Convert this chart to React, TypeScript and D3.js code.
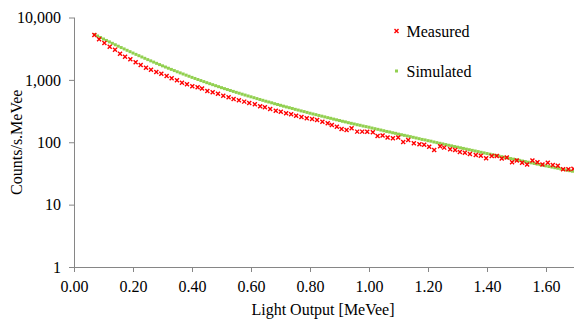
import React, { useRef, useEffect } from 'react';
import * as d3 from 'd3';

// measured spectrum: [light output MeVee, counts/s.MeVee]
const measured: [number, number][] = [
  [0.069, 5250], [0.085, 4475], [0.103, 3900], [0.121, 3400], [0.139, 3050], [0.156, 2630],
  [0.173, 2355], [0.191, 2140], [0.209, 1915], [0.226, 1733], [0.244, 1570], [0.261, 1457],
  [0.279, 1339], [0.296, 1257], [0.314, 1154], [0.331, 1061], [0.349, 986], [0.366, 902],
  [0.383, 850], [0.401, 789], [0.419, 760], [0.434, 730], [0.452, 664], [0.470, 633],
  [0.488, 601], [0.506, 558], [0.524, 526], [0.541, 494], [0.559, 471], [0.577, 448],
  [0.594, 427], [0.613, 407], [0.631, 378], [0.647, 364], [0.665, 342], [0.684, 321],
  [0.701, 309], [0.719, 292], [0.736, 281], [0.753, 267], [0.771, 254], [0.789, 243],
  [0.807, 236], [0.824, 228], [0.842, 214], [0.860, 201], [0.874, 189], [0.891, 178],
  [0.907, 163], [0.924, 157], [0.941, 168], [0.960, 148], [0.977, 148], [0.994, 147],
  [1.013, 145], [1.029, 126], [1.046, 128], [1.063, 119], [1.081, 116], [1.099, 119],
  [1.116, 101], [1.133, 109], [1.152, 96], [1.171, 93], [1.187, 91], [1.204, 85],
  [1.221, 75], [1.241, 86], [1.255, 82], [1.275, 77], [1.292, 75], [1.308, 70],
  [1.325, 68], [1.342, 65], [1.362, 62.5], [1.379, 61], [1.397, 55.4], [1.416, 60],
  [1.433, 60], [1.450, 55], [1.467, 57], [1.485, 48], [1.501, 51], [1.519, 47],
  [1.536, 44], [1.554, 51], [1.571, 48], [1.588, 44], [1.606, 47], [1.623, 43],
  [1.640, 42], [1.658, 37], [1.676, 37], [1.693, 37.5]
];

// simulated spectrum
const simulated: [number, number][] = [
  [0.07, 5333], [0.08, 5047], [0.09, 4775], [0.10, 4519], [0.11, 4285], [0.12, 4064],
  [0.13, 3855], [0.14, 3656], [0.15, 3467], [0.16, 3296], [0.17, 3133], [0.18, 2979],
  [0.19, 2831], [0.20, 2692], [0.21, 2564], [0.22, 2443], [0.23, 2328], [0.24, 2218],
  [0.25, 2113], [0.26, 2018], [0.27, 1928], [0.28, 1841], [0.29, 1758], [0.30, 1679],
  [0.31, 1607], [0.32, 1538], [0.33, 1472], [0.34, 1409], [0.35, 1349], [0.36, 1294],
  [0.37, 1242], [0.38, 1191], [0.39, 1143], [0.40, 1096], [0.41, 1054], [0.42, 1014],
  [0.43, 975], [0.44, 938], [0.45, 902], [0.46, 869], [0.47, 838], [0.48, 807],
  [0.49, 778], [0.50, 750], [0.51, 724], [0.52, 700], [0.53, 676], [0.54, 653],
  [0.55, 631], [0.56, 611], [0.57, 590], [0.58, 571], [0.59, 552], [0.60, 535],
  [0.61, 518], [0.62, 501], [0.63, 485], [0.64, 470], [0.65, 455], [0.66, 442],
  [0.67, 429], [0.68, 415], [0.69, 403], [0.70, 391], [0.71, 379], [0.72, 368],
  [0.73, 358], [0.74, 348], [0.75, 337], [0.76, 328], [0.77, 318], [0.78, 310],
  [0.79, 301], [0.80, 292], [0.81, 284], [0.82, 277], [0.83, 269], [0.84, 262],
  [0.85, 255], [0.86, 248], [0.87, 242], [0.88, 235], [0.89, 229], [0.90, 223],
  [0.91, 217], [0.92, 212], [0.93, 206], [0.94, 201], [0.95, 196], [0.96, 191],
  [0.97, 187], [0.98, 182], [0.99, 178], [1.00, 174], [1.01, 169], [1.02, 165],
  [1.03, 161], [1.04, 157], [1.05, 153], [1.06, 149], [1.07, 146], [1.08, 142],
  [1.09, 139], [1.10, 135], [1.11, 132], [1.12, 129], [1.13, 126], [1.14, 123],
  [1.15, 120], [1.16, 117], [1.17, 114], [1.18, 111], [1.19, 109], [1.20, 106],
  [1.21, 104], [1.22, 101], [1.23, 98.6], [1.24, 96.2], [1.25, 94.0], [1.26, 91.8],
  [1.27, 89.5], [1.28, 87.5], [1.29, 85.3], [1.30, 83.4], [1.31, 81.5], [1.32, 79.6],
  [1.33, 77.6], [1.34, 75.9], [1.35, 74.1], [1.36, 72.4], [1.37, 70.8], [1.38, 69.0],
  [1.39, 67.5], [1.40, 65.9], [1.41, 64.4], [1.42, 63.0], [1.43, 61.5], [1.44, 60.1],
  [1.45, 58.7], [1.46, 57.4], [1.47, 56.1], [1.48, 54.8], [1.49, 53.6], [1.50, 52.4],
  [1.51, 51.2], [1.52, 50.0], [1.53, 49.0], [1.54, 47.9], [1.55, 46.8], [1.56, 45.7],
  [1.57, 44.7], [1.58, 43.8], [1.59, 42.8], [1.60, 41.8], [1.61, 40.8], [1.62, 40.0],
  [1.63, 39.1], [1.64, 38.3], [1.65, 37.4], [1.66, 36.6], [1.67, 35.8], [1.68, 35.0],
  [1.69, 34.3]
];

const xTicks = [0, 0.2, 0.4, 0.6, 0.8, 1.0, 1.2, 1.4, 1.6];
const yTicks = [1, 10, 100, 1000, 10000];
const seriesNames = ['Measured', 'Simulated'];

const App: React.FC = () => {
  const svgRef = useRef<SVGSVGElement | null>(null);

  useEffect(() => {
    const svg = d3.select(svgRef.current);
    svg.selectAll('*').remove();
    const width = 574;
    const height = 322;
    const font = '"Liberation Serif", "Times New Roman", serif';
    const axisColor = '#868686';
    const red = '#ff0000';
    const green = '#92d050';

    const x = d3.scaleLinear().domain([0, 1.7]).range([74, 575.5]);
    const y = d3.scaleLog().domain([1, 10000]).range([267, 17.5]);

    svg.attr('width', width).attr('height', height).style('background', '#fff');

    // y axis
    const yAxis = svg.append('g')
      .attr('transform', `translate(${x(0)},0)`)
      .call(d3.axisLeft(y).tickValues(yTicks).tickSize(5).tickSizeOuter(0).tickFormat(d3.format(',')));
    yAxis.select('.domain').attr('stroke', axisColor).attr('d', `M0.5,${y(10000)}V${y(1)}`);
    yAxis.selectAll('line').attr('stroke', axisColor);
    yAxis.selectAll('text')
      .attr('fill', '#000')
      .style('font-family', font)
      .style('font-size', '16px')
      .attr('x', -13);

    // x axis
    const xAxis = svg.append('g')
      .attr('transform', `translate(0,${y(1)})`)
      .call(d3.axisBottom(x).tickValues(xTicks).tickSize(5).tickSizeOuter(0).tickFormat(d3.format('.2f')));
    xAxis.select('.domain').attr('stroke', axisColor);
    xAxis.selectAll('line').attr('stroke', axisColor);
    xAxis.selectAll('text')
      .attr('fill', '#000')
      .style('font-family', font)
      .style('font-size', '16px')
      .attr('y', 14);

    // simulated points
    svg.append('g')
      .selectAll('rect')
      .data(simulated)
      .enter()
      .append('rect')
      .attr('x', d => x(d[0]) - 1.5)
      .attr('y', d => y(d[1]) - 1.5)
      .attr('width', 3)
      .attr('height', 3)
      .attr('fill', green);

    // measured points
    const cross = (cx: number, cy: number) =>
      `M${cx - 2},${cy - 2}L${cx + 2},${cy + 2}M${cx + 2},${cy - 2}L${cx - 2},${cy + 2}`;
    svg.append('g')
      .selectAll('path')
      .data(measured)
      .enter()
      .append('path')
      .attr('d', d => cross(x(d[0]), y(d[1])))
      .attr('stroke', red)
      .attr('stroke-width', 1.4)
      .attr('fill', 'none');

    // axis titles
    svg.append('text')
      .attr('x', 323)
      .attr('y', 315)
      .attr('text-anchor', 'middle')
      .style('font-family', font)
      .style('font-size', '16px')
      .text('Light Output [MeVee]');

    svg.append('text')
      .attr('transform', `translate(22,${(y(1) + y(10000)) / 2}) rotate(-90)`)
      .attr('text-anchor', 'middle')
      .style('font-family', font)
      .style('font-size', '16px')
      .text('Counts/s.MeVee');

    // legend
    const legend = svg.append('g').attr('transform', 'translate(396.5, 31)');
    legend.append('path')
      .attr('d', cross(0, 0))
      .attr('stroke', red)
      .attr('stroke-width', 1.4);
    legend.append('rect')
      .attr('x', -1.5)
      .attr('y', 40 - 1.5)
      .attr('width', 3)
      .attr('height', 3)
      .attr('fill', green);
    legend.selectAll('text')
      .data(seriesNames)
      .enter()
      .append('text')
      .attr('x', 10)
      .attr('y', (d, i) => i * 40 + 5.5)
      .style('font-family', font)
      .style('font-size', '16px')
      .text(d => d);
  }, []);

  return <svg ref={svgRef} style={{ position: 'absolute', left: 0, top: 0 }}></svg>;
};

export default App;
